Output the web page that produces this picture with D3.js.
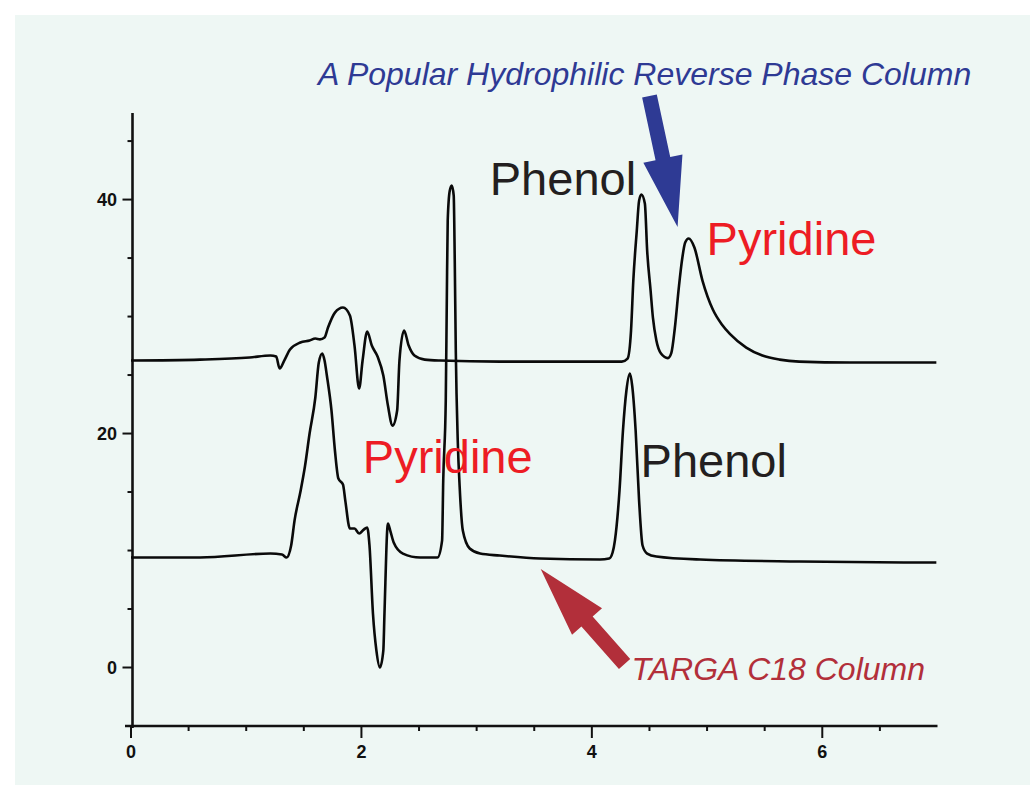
<!DOCTYPE html>
<html>
<head>
<meta charset="utf-8">
<script src="https://cdn.jsdelivr.net/npm/d3@7"></script>
<style>
  html, body { margin: 0; padding: 0; background: #ffffff; }
  svg { display: block; }
</style>
</head>
<body>
<div id="chart"></div>
<script>
// traces: [time (min), response]
var hydrophilicTrace = [
  [0, 26.24], [0.60, 26.32], [1.03, 26.50], [1.21, 26.67], [1.26, 26.58], [1.29, 25.56],
  [1.33, 26.24], [1.38, 27.18], [1.47, 27.78], [1.55, 27.95], [1.60, 28.12], [1.64, 28.05],
  [1.68, 28.21], [1.71, 29.06], [1.77, 30.34], [1.84, 30.77], [1.90, 30.09], [1.94, 27.52],
  [1.98, 23.85], [2.01, 26.24], [2.05, 28.72], [2.09, 27.52], [2.14, 26.58], [2.19, 24.96],
  [2.23, 22.39], [2.27, 20.68], [2.31, 21.97], [2.33, 26.24], [2.37, 28.80], [2.41, 27.52],
  [2.46, 26.67], [2.55, 26.32], [2.68, 26.24], [3.20, 26.15], [4.07, 26.15], [4.26, 26.15],
  [4.31, 26.41], [4.34, 28.8], [4.36, 33.1], [4.39, 37.35], [4.41, 39.91], [4.43, 40.43],
  [4.46, 39.66], [4.48, 35.64], [4.51, 32.2], [4.53, 29.9], [4.56, 27.95], [4.60, 26.84],
  [4.66, 26.45], [4.69, 26.9], [4.72, 29.0], [4.755, 32.5], [4.785, 35.0], [4.81, 36.32],
  [4.84, 36.67], [4.89, 35.9], [4.96, 33.08], [5.05, 30.6], [5.13, 29.3], [5.20, 28.5],
  [5.34, 27.35], [5.48, 26.67], [5.63, 26.32], [5.80, 26.15], [6.24, 26.07], [6.67, 26.07],
  [6.99, 26.07]
];

var targaTrace = [
  [0, 9.40], [0.60, 9.40], [1.21, 9.74], [1.31, 9.66], [1.35, 9.40], [1.39, 10.43],
  [1.42, 12.6], [1.47, 15.0], [1.51, 17.2], [1.55, 20.0], [1.60, 23.08], [1.63, 26.07],
  [1.66, 26.84], [1.68, 26.24], [1.70, 24.96], [1.74, 21.97], [1.77, 18.55], [1.80, 16.15],
  [1.84, 15.64], [1.86, 14.27], [1.90, 11.88], [1.94, 11.88], [1.98, 11.45], [2.02, 11.79],
  [2.05, 11.97], [2.07, 10.43], [2.10, 4.62], [2.13, 1.45], [2.16, 0], [2.19, 1.45],
  [2.20, 4.62], [2.23, 12.31], [2.25, 11.71], [2.28, 10.68], [2.36, 9.74], [2.51, 9.40],
  [2.66, 9.40], [2.70, 10.85], [2.71, 15.98], [2.732, 22.82], [2.741, 31.37], [2.749, 38.21],
  [2.767, 40.77], [2.784, 41.2], [2.801, 40.34], [2.810, 34.79], [2.819, 27.09], [2.836, 19.40],
  [2.853, 15.38], [2.88, 11.71], [2.94, 10.17], [3.03, 9.74], [3.20, 9.57], [3.55, 9.32],
  [4.07, 9.23], [4.15, 9.32], [4.18, 9.83], [4.20, 10.85], [4.24, 15.13], [4.27, 20.26],
  [4.30, 23.68], [4.33, 25.13], [4.35, 24.10], [4.38, 20.26], [4.41, 14.27], [4.44, 10.43],
  [4.48, 9.74], [4.56, 9.49], [4.94, 9.23], [5.80, 9.06], [6.99, 8.97]
];

var xTickValues = [0, 2, 4, 6];
var yTickValues = [0, 20, 40];

// labels: [text, x, y] in data units (y = baseline)
var peakLabels = [
  ["Phenol", 3.114, 40.38, "#231f20"],
  ["Pyridine", 4.996, 35.26, "#ed1c24"],
  ["Pyridine", 2.012, 16.62, "#ed1c24"],
  ["Phenol", 4.423, 16.28, "#231f20"]
];
var columnLabels = [
  ["A Popular Hydrophilic Reverse Phase Column", 1.622, 49.79, "#2e3a94"],
  ["TARGA C18 Column", 4.345, -1.07, "#b22f3a"]
];
// arrows: [tailX, tailY, tipX, tipY]
var arrows = [
  [4.50, 48.85, 4.744, 37.65, "#2e3a94"],
  [4.284, 0.30, 3.556, 8.42, "#b22f3a"]
];

var width = 1030, height = 785;
var svg = d3.select("#chart").append("svg")
  .attr("width", width)
  .attr("height", height);

// mint panel
svg.append("rect")
  .attr("x", 15).attr("y", 15)
  .attr("width", width - 15).attr("height", height - 15)
  .attr("fill", "#eef7f4");

var xScale = d3.scaleLinear().domain([0, 7]).range([131, 937.5]);
var yScale = d3.scaleLinear().domain([-5, 47.4]).range([726, 113]);

var axisColor = "#111";
var tickFont = "'Liberation Sans', Arial, sans-serif";

// y axis
var yAxisX = xScale(0) + 1.5;
svg.append("line")
  .attr("x1", yAxisX).attr("x2", yAxisX)
  .attr("y1", yScale(47.4)).attr("y2", yScale(-5) + 2)
  .attr("stroke", axisColor).attr("stroke-width", 2.6);

svg.append("g").selectAll("line")
  .data(d3.range(-5, 46, 5))
  .enter().append("line")
  .attr("x1", function(d){ return yTickValues.indexOf(d) >= 0 ? yAxisX - 10 : yAxisX - 5; })
  .attr("x2", yAxisX)
  .attr("y1", function(d){ return yScale(d); })
  .attr("y2", function(d){ return yScale(d); })
  .attr("stroke", axisColor).attr("stroke-width", 2);

svg.append("g").selectAll("text")
  .data(yTickValues)
  .enter().append("text")
  .attr("x", 117)
  .attr("y", function(d){ return yScale(d) + 6.5; })
  .attr("text-anchor", "end")
  .attr("font-family", tickFont)
  .attr("font-weight", "bold")
  .attr("font-size", 18)
  .attr("fill", "#111")
  .text(function(d){ return d; });

// x axis
var xAxisY = yScale(-5);
svg.append("line")
  .attr("x1", xScale(0) - 6).attr("x2", xScale(7))
  .attr("y1", xAxisY).attr("y2", xAxisY)
  .attr("stroke", axisColor).attr("stroke-width", 2.6);

svg.append("g").selectAll("line")
  .data(d3.range(0, 7, 0.5))
  .enter().append("line")
  .attr("x1", function(d){ return xScale(d); })
  .attr("x2", function(d){ return xScale(d); })
  .attr("y1", xAxisY)
  .attr("y2", function(d){ return xTickValues.indexOf(d) >= 0 ? xAxisY + 12 : xAxisY + 5; })
  .attr("stroke", axisColor).attr("stroke-width", 2);

svg.append("g").selectAll("text")
  .data(xTickValues)
  .enter().append("text")
  .attr("x", function(d){ return xScale(d); })
  .attr("y", 758)
  .attr("text-anchor", "middle")
  .attr("font-family", tickFont)
  .attr("font-weight", "bold")
  .attr("font-size", 18)
  .attr("fill", "#111")
  .text(function(d){ return d; });

// traces
var line = d3.line()
  .x(function(d){ return xScale(d[0]); })
  .y(function(d){ return yScale(d[1]); })
  .curve(d3.curveMonotoneX);

[hydrophilicTrace, targaTrace].forEach(function(tr){
  svg.append("path")
    .datum(tr)
    .attr("d", line)
    .attr("fill", "none")
    .attr("stroke", "#0a0a0a")
    .attr("stroke-width", 2.6)
    .attr("stroke-linejoin", "round");
});

// arrows
function arrowPath(a){
  var x0 = xScale(a[0]), y0 = yScale(a[1]), x1 = xScale(a[2]), y1 = yScale(a[3]);
  var dx = x1 - x0, dy = y1 - y0, len = Math.sqrt(dx*dx + dy*dy);
  var ux = dx/len, uy = dy/len, nx = -uy, ny = ux;
  var shaftW = 7.5, headW = 20, headL = 70;
  var bx = x1 - ux*headL, by = y1 - uy*headL;
  var pts = [
    [x0 + nx*shaftW, y0 + ny*shaftW],
    [bx + nx*shaftW, by + ny*shaftW],
    [bx + nx*headW, by + ny*headW],
    [x1, y1],
    [bx - nx*headW, by - ny*headW],
    [bx - nx*shaftW, by - ny*shaftW],
    [x0 - nx*shaftW, y0 - ny*shaftW]
  ];
  return "M" + pts.map(function(p){ return p[0] + "," + p[1]; }).join("L") + "Z";
}

svg.append("g").selectAll("path")
  .data(arrows)
  .enter().append("path")
  .attr("d", arrowPath)
  .attr("fill", function(d){ return d[4]; });

// labels
svg.append("g").selectAll("text")
  .data(peakLabels)
  .enter().append("text")
  .attr("x", function(d){ return xScale(d[1]); })
  .attr("y", function(d){ return yScale(d[2]); })
  .attr("font-family", "'Liberation Sans', Arial, sans-serif")
  .attr("font-size", 47)
  .attr("fill", function(d){ return d[3]; })
  .text(function(d){ return d[0]; });

svg.append("g").selectAll("text")
  .data(columnLabels)
  .enter().append("text")
  .attr("x", function(d){ return xScale(d[1]); })
  .attr("y", function(d){ return yScale(d[2]); })
  .attr("font-family", "'Liberation Sans', Arial, sans-serif")
  .attr("font-style", "italic")
  .attr("font-size", 32)
  .attr("fill", function(d){ return d[3]; })
  .text(function(d){ return d[0]; });
</script>
</body>
</html>
